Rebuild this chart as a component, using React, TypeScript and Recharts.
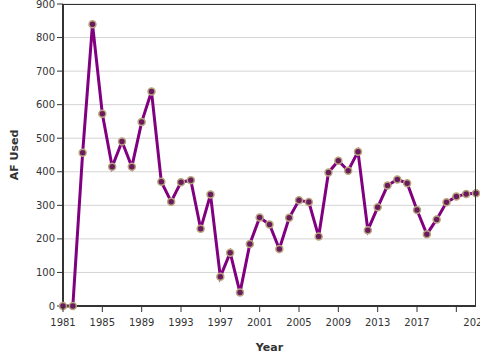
import { LineChart, Line, XAxis, YAxis, CartesianGrid, Label } from "recharts";

const years = [
  1981, 1982, 1983, 1984, 1985, 1986, 1987, 1988, 1989, 1990,
  1991, 1992, 1993, 1994, 1995, 1996, 1997, 1998, 1999, 2000,
  2001, 2002, 2003, 2004, 2005, 2006, 2007, 2008, 2009, 2010,
  2011, 2012, 2013, 2014, 2015, 2016, 2017, 2018, 2019, 2020,
  2021, 2022, 2023,
];
const afUsed = [
  0, 0, 457, 840, 573, 415, 490, 415, 548, 639,
  370, 311, 369, 375, 230, 332, 87, 159, 40, 185,
  264, 243, 170, 263, 315, 310, 207, 398, 433, 403,
  460, 226, 294, 359, 377, 366, 286, 214, 258, 309,
  326, 334, 336,
];
const xTicks = [1981, 1985, 1989, 1993, 1997, 2001, 2005, 2009, 2013, 2017, 2021, 2023];
const yTicks = [0, 100, 200, 300, 400, 500, 600, 700, 800, 900];

const data = years.map((y, i) => ({ year: y, af: afUsed[i] }));

const FONT = "DejaVu Sans, Verdana, sans-serif";
const titleStyle = { fontFamily: FONT, fontSize: 11, fontWeight: "bold" as const, fill: "#333" };

// last label sits at the domain end and is cut by the edge; 2021 keeps only its tick
const YearTick = ({ x, y, payload }: any) => {
  const v = payload.value;
  return (
    <g>
      {v !== 2023 && <line x1={x} x2={x} y1={y - 8} y2={y - 2} stroke="#333" strokeWidth={1} />}
      {v !== 2021 && (
        <text x={x} y={y + 12} textAnchor="middle" fontSize={10} fill="#333" fontFamily={FONT}>
          {v}
        </text>
      )}
    </g>
  );
};

const YTitle = ({ viewBox }: any) => {
  const cx = 18;
  const cy = viewBox.y + viewBox.height / 2;
  return (
    <text x={cx} y={cy} transform={`rotate(-90 ${cx} ${cy})`} textAnchor="middle" {...titleStyle}>
      AF Used
    </text>
  );
};

const XTitle = ({ viewBox }: any) => {
  const cx = viewBox.x + viewBox.width / 2;
  return (
    <text x={cx} y={viewBox.y + 45} textAnchor="middle" {...titleStyle}>
      Year
    </text>
  );
};

export default function App() {
  return (
    <div style={{ position: "absolute", left: 0, top: 0, width: 480, height: 360, background: "#fff" }}>
      <LineChart width={480} height={360} data={data} margin={{ top: 4, right: 4, left: 0, bottom: 0 }}>
        <CartesianGrid vertical={false} stroke="#d4d4d4" strokeWidth={1} />
        <XAxis
          dataKey="year"
          type="number"
          domain={[1981, 2023]}
          ticks={xTicks}
          interval={0}
          height={54}
          tickLine={false}
          tick={<YearTick />}
          axisLine={{ stroke: "#333", strokeWidth: 2 }}
        >
          <Label content={<XTitle />} />
        </XAxis>
        <YAxis
          type="number"
          domain={[0, 900]}
          ticks={yTicks}
          interval={0}
          width={63}
          tickSize={6}
          tickLine={{ stroke: "#333" }}
          axisLine={{ stroke: "#333", strokeWidth: 2 }}
          tick={{ fontSize: 10, fill: "#333", fontFamily: FONT }}
        >
          <Label content={<YTitle />} />
        </YAxis>
        <Line
          type="linear"
          dataKey="af"
          stroke="#800080"
          strokeWidth={3}
          dot={{ r: 3.5, fill: "#6a1b5e", stroke: "#b8a67c", strokeWidth: 1.5 }}
          isAnimationActive={false}
        />
      </LineChart>
      {/* thin frame on top and right of the plot area */}
      <div
        style={{
          position: "absolute",
          left: 63,
          top: 4,
          width: 413,
          height: 302,
          boxSizing: "border-box",
          borderTop: "1px solid #333",
          borderRight: "1px solid #333",
          pointerEvents: "none",
        }}
      />
    </div>
  );
}
